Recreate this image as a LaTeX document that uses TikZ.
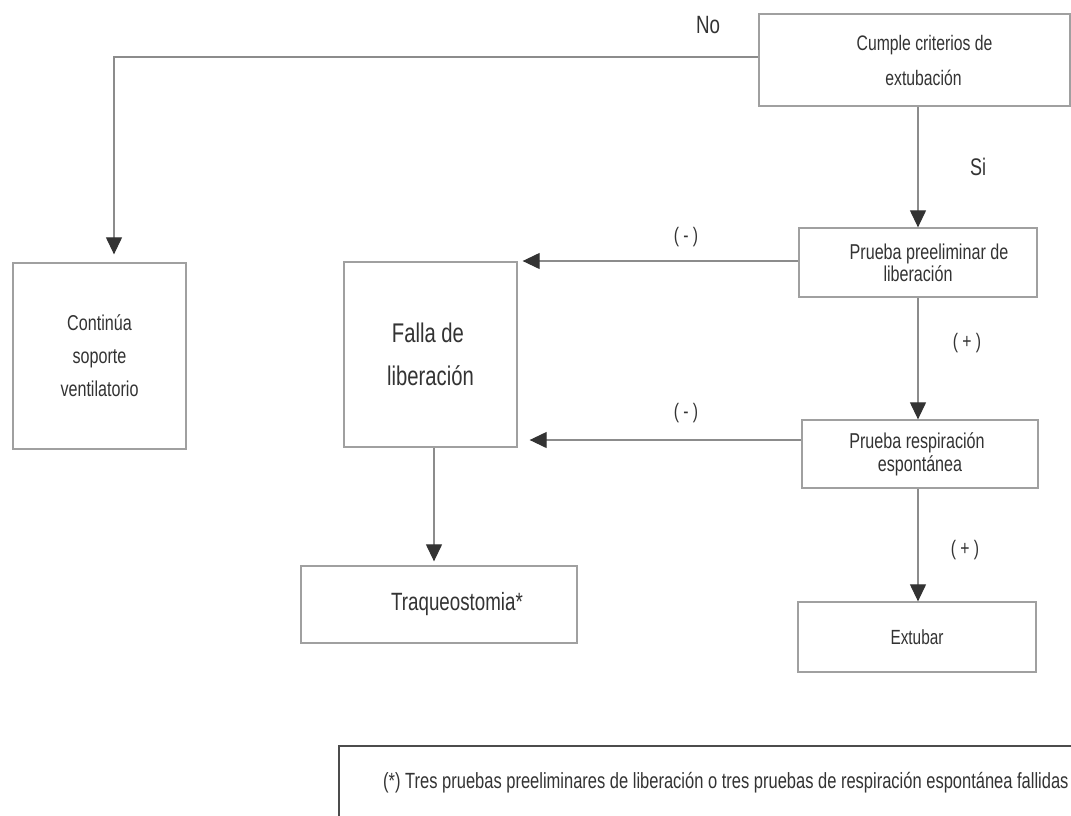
\documentclass[tikz,border=0pt]{standalone}
\usepackage{fontspec}
\setmainfont{Liberation Sans}[FakeStretch=0.75]
\usetikzlibrary{arrows.meta}
\definecolor{txt}{HTML}{333333}
\definecolor{linec}{HTML}{8C8C8C}
\definecolor{boxc}{HTML}{A0A0A0}
\definecolor{tipc}{HTML}{333333}
\lineskiplimit=-100pt
\begin{document}
\begin{tikzpicture}[x=1pt,y=-1pt,
  box/.style={draw=boxc,line width=1.3pt,fill=white,inner sep=0pt,align=center,text=txt},
  lbl/.style={inner sep=0pt,text=txt},
  conn/.style={draw=linec,line width=1.2pt},
  arr/.style={conn,-{Triangle[length=17pt,width=16pt,color=tipc]}}]
\useasboundingbox (0,0) rectangle (1071,815);

% boxes
\node[box,minimum width=311pt,minimum height=92pt,font={\fontsize{21}{35}\selectfont}] (cumple) at (914.5,60)
  {\hspace*{20pt}Cumple criterios de\\\hspace*{18pt}extubación};
\node[box,minimum width=173pt,minimum height=186pt,font={\fontsize{21.5}{33}\selectfont}] (cont) at (99.5,356)
  {Continúa\\soporte\\ventilatorio};
\node[box,minimum width=173pt,minimum height=185pt,font={\fontsize{27}{43}\selectfont}] (falla) at (430.5,354.5)
  {\hspace*{-5pt}Falla de\\liberación};
\node[box,minimum width=238pt,minimum height=69pt,font={\fontsize{21.5}{22}\selectfont}] (preel) at (918,262.5)
  {\hspace*{22pt}Prueba preeliminar de\\liberación};
\node[box,minimum width=236pt,minimum height=68pt,font={\fontsize{21.5}{23}\selectfont}] (resp) at (920,454)
  {\hspace*{-6pt}Prueba respiración\\espontánea};
\node[box,minimum width=276pt,minimum height=77pt,font={\fontsize{25}{30}\selectfont}] (traq) at (439,604.5)
  {\hspace*{36pt}Traqueostomia*};
\node[box,minimum width=238pt,minimum height=70pt,font={\fontsize{20.5}{25}\selectfont}] (ext) at (917,637)
  {Extubar};

% footnote box
\draw[draw=black!70,line width=2pt] (1090,746) -- (339,746) -- (339,830);
\node[lbl,anchor=west,font={\fontsize{22}{28}\selectfont}] (foot) at (383,783)
  {(*) Tres pruebas preeliminares de liberación o tres pruebas de respiración espontánea fallidas};

% connectors
\coordinate (noTurn) at (114,57);
\draw[arr] ([yshift=3pt]cumple.west) -- (noTurn) -- ([xshift=14.5pt,yshift=8pt]cont.north);
\draw[arr] (cumple.south -| preel.north) -- (preel.north);
\draw[arr] (preel.south) -- (preel.south |- resp.north);
\draw[arr] (resp.south -| preel.south) -- (ext.north -| preel.south);
\draw[arr,shorten >=5pt] ([yshift=1.5pt]preel.west) -- ([yshift=1.5pt]preel.west -| falla.east);
\draw[arr,shorten >=12pt] ([yshift=14pt]resp.west) -- ([yshift=14pt]resp.west -| falla.east);
\draw[arr,shorten >=4pt] (falla.south -| 434,0) -- (traq.north -| 434,0);

% labels
\node[lbl,font={\fontsize{25}{30}\selectfont}] (lno) at (708,25) {No};
\node[lbl,font={\fontsize{24}{30}\selectfont}] (lsi) at (978,167) {Si};
\node[lbl,font={\fontsize{21}{26}\selectfont}] (lm1) at (686,237) {( - )};
\node[lbl,font={\fontsize{21}{26}\selectfont}] (lm2) at (686,413) {( - )};
\node[lbl,font={\fontsize{21}{26}\selectfont}] (lp1) at (967,343) {( + )};
\node[lbl,font={\fontsize{21}{26}\selectfont}] (lp2) at (965,550) {( + )};
\end{tikzpicture}
\end{document}
